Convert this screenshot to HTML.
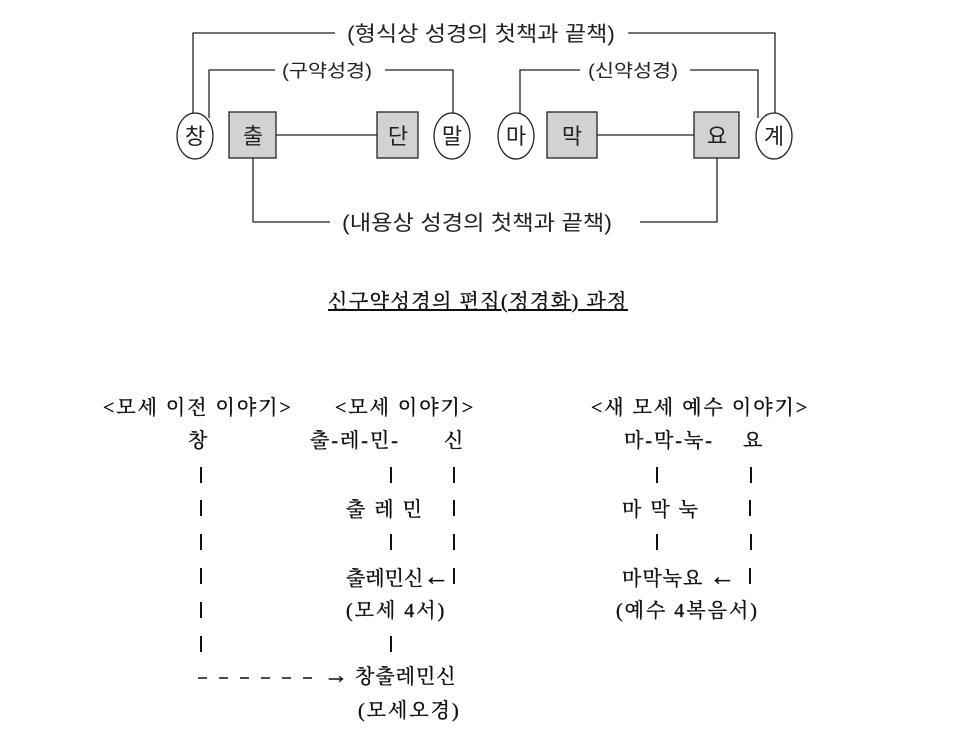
<!DOCTYPE html>
<html><head><meta charset="utf-8">
<style>
html,body{margin:0;padding:0;background:#fff;}
body{width:960px;height:754px;position:relative;overflow:hidden;}
.t{position:absolute;font-family:"Liberation Serif","Noto Serif CJK KR","Noto Serif CJK SC",serif;font-size:20px;letter-spacing:2px;line-height:24px;color:#111;white-space:pre;-webkit-text-stroke:0.4px #111;}
.b{position:absolute;width:2px;height:16px;background:#111;}
svg text{font-family:"Liberation Sans","Noto Sans CJK KR",sans-serif;fill:#222;}
</style></head><body>
<svg width="960" height="754" style="position:absolute;left:0;top:0">
 <g stroke="#222" stroke-width="1.3" fill="none">
  <polyline points="335,33 193,33 193,114"/>
  <polyline points="628,33 775,33 775,114"/>
  <polyline points="275,70 209,70 209,118"/>
  <polyline points="385,70 453,70 453,114"/>
  <polyline points="580,70 520,70 520,114"/>
  <polyline points="690,70 758,70 758,118"/>
  <polyline points="253,158 253,222 330,222"/>
  <polyline points="640,222 717,222 717,158"/>
  <line x1="276" y1="135" x2="377" y2="135"/>
  <line x1="597" y1="135" x2="694" y2="135"/>
 </g>
 <g stroke="#222" stroke-width="1.3" fill="#fff">
  <ellipse cx="195" cy="136" rx="18" ry="23"/>
  <ellipse cx="452" cy="136" rx="18" ry="23"/>
  <ellipse cx="516" cy="136" rx="18" ry="23"/>
  <ellipse cx="774" cy="136" rx="18" ry="23"/>
 </g>
 <g stroke="#222" stroke-width="1.3" fill="#d2d2d2">
  <rect x="229" y="112" width="47" height="46"/>
  <rect x="377" y="112" width="41" height="46"/>
  <rect x="547" y="112" width="50" height="46"/>
  <rect x="694" y="112" width="45" height="46"/>
 </g>
 <g font-size="22" text-anchor="middle">
  <text x="195" y="144">창</text><text x="253" y="144">출</text>
  <text x="398" y="144">단</text><text x="452" y="144">말</text>
  <text x="516" y="144">마</text><text x="572" y="144">막</text>
  <text x="717" y="144">요</text><text x="774" y="144">계</text>
 </g>
 <text x="481" y="41" font-size="21" text-anchor="middle" textLength="268" lengthAdjust="spacingAndGlyphs">(형식상 성경의 첫책과 끝책)</text>
 <text x="327" y="77" font-size="18" text-anchor="middle" textLength="90" lengthAdjust="spacingAndGlyphs">(구약성경)</text>
 <text x="633" y="77" font-size="18" text-anchor="middle" textLength="90" lengthAdjust="spacingAndGlyphs">(신약성경)</text>
 <text x="477" y="230" font-size="21" text-anchor="middle" textLength="270" lengthAdjust="spacingAndGlyphs">(내용상 성경의 첫책과 끝책)</text>
 <line x1="198" y1="678" x2="318" y2="678" stroke="#111" stroke-width="1.5" stroke-dasharray="9 12"/>
</svg>
<div class="t" style="left:328px;top:290px;font-size:20px;letter-spacing:1.5px;text-decoration:underline;">신구약성경의 편집(정경화) 과정</div>

<div class="t" style="left:103px;top:396px">&lt;모세 이전 이야기&gt;</div>
<div class="t" style="left:335px;top:396px">&lt;모세 이야기&gt;</div>
<div class="t" style="left:591px;top:396px">&lt;새 모세 예수 이야기&gt;</div>

<div class="t" style="left:188px;top:429px">창</div>
<div class="t" style="left:310px;top:429px">출-레-민-</div>
<div class="t" style="left:444px;top:429px">신</div>
<div class="t" style="left:624px;top:429px">마-막-눅-</div>
<div class="t" style="left:743px;top:429px">요</div>

<div class="b" style="left:200px;top:467px"></div>
<div class="b" style="left:200px;top:500px"></div>
<div class="b" style="left:200px;top:534px"></div>
<div class="b" style="left:200px;top:568px"></div>
<div class="b" style="left:200px;top:602px"></div>
<div class="b" style="left:200px;top:636px"></div>

<div class="b" style="left:390px;top:467px"></div>
<div class="b" style="left:453px;top:467px"></div>
<div class="t" style="left:346px;top:498px">출 레 민</div>
<div class="b" style="left:453px;top:500px"></div>
<div class="b" style="left:390px;top:534px"></div>
<div class="b" style="left:453px;top:534px"></div>
<div class="t" style="left:346px;top:565px;letter-spacing:0">출레민신<span style="font-size:26px">←</span></div>
<div class="b" style="left:453px;top:568px"></div>
<div class="t" style="left:346px;top:599px">(모세 4서)</div>
<div class="b" style="left:390px;top:636px"></div>

<div class="t" style="left:324px;top:664px;letter-spacing:1px"><span style="font-size:24px">→</span> 창출레민신</div>
<div class="t" style="left:358px;top:699px">(모세오경)</div>

<div class="b" style="left:656px;top:467px"></div>
<div class="b" style="left:750px;top:467px"></div>
<div class="t" style="left:622px;top:498px">마 막 눅</div>
<div class="b" style="left:749px;top:500px"></div>
<div class="b" style="left:656px;top:534px"></div>
<div class="b" style="left:750px;top:534px"></div>
<div class="t" style="left:622px;top:565px;letter-spacing:1px">마막눅요 <span style="font-size:26px">←</span></div>
<div class="b" style="left:749px;top:568px"></div>
<div class="t" style="left:616px;top:599px">(예수 4복음서)</div>
</body></html>
